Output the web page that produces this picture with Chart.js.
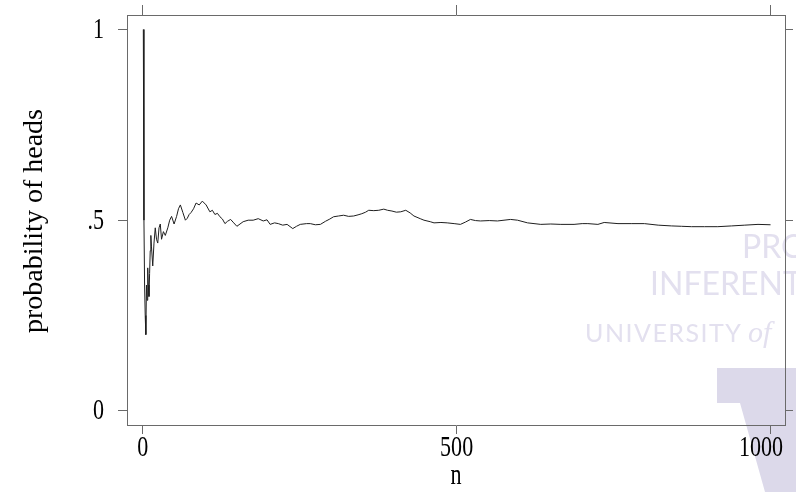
<!DOCTYPE html>
<html>
<head>
<meta charset="utf-8">
<script src="https://cdn.jsdelivr.net/npm/chart.js@4/dist/chart.umd.min.js"></script>
<style>
  body { margin: 0; background: #fff; }
  canvas { display: block; }
</style>
</head>
<body>
<canvas id="graph" width="796" height="492"></canvas>
<script>
// running proportion of heads
const flips = [1, 2, 3, 4, 5, 6, 7, 8, 9, 10, 11, 12, 13, 14, 16, 18, 20, 22, 24, 26, 28, 30, 33, 36, 40, 43, 46, 50,
  54, 57, 60, 64, 68, 71, 74, 77, 81, 85, 90, 95, 101, 107, 111, 115, 119, 123, 127, 131, 135, 140, 145, 150, 155,
  160, 168, 176, 184, 192, 198, 203, 210, 216, 223, 230, 239, 245, 251, 261, 267, 275, 283, 291, 298, 304, 312, 320,
  328, 336, 343, 349, 355, 360, 368, 376, 384, 390, 397, 404, 411, 419, 426, 432, 442, 448, 458, 464, 475, 485, 496,
  506, 514, 522, 530, 538, 552, 565, 586, 597, 613, 634, 650, 666, 687, 700, 709, 725, 735, 757, 778, 799, 821, 842,
  858, 874, 895, 916, 938, 959, 980, 1000];
const probHeads = [1, 0.5, 0.33, 0.25, 0.2, 0.33, 0.29, 0.375, 0.33, 0.3, 0.36, 0.42, 0.46, 0.43, 0.38, 0.44, 0.48,
  0.45, 0.44, 0.48, 0.49, 0.45, 0.47, 0.46, 0.48, 0.5, 0.51, 0.49, 0.51, 0.53, 0.54, 0.52, 0.5, 0.505, 0.515, 0.52,
  0.53, 0.545, 0.54, 0.55, 0.54, 0.522, 0.526, 0.515, 0.518, 0.509, 0.503, 0.491, 0.497, 0.502, 0.493, 0.484, 0.49,
  0.496, 0.5, 0.5, 0.504, 0.498, 0.501, 0.489, 0.493, 0.491, 0.487, 0.489, 0.478, 0.484, 0.489, 0.491, 0.491, 0.488,
  0.489, 0.497, 0.503, 0.509, 0.511, 0.513, 0.51, 0.511, 0.514, 0.517, 0.521, 0.526, 0.525, 0.526, 0.529, 0.526,
  0.524, 0.521, 0.522, 0.526, 0.519, 0.511, 0.504, 0.5, 0.496, 0.493, 0.494, 0.493, 0.491, 0.489, 0.495, 0.502,
  0.499, 0.498, 0.499, 0.498, 0.502, 0.5, 0.493, 0.489, 0.49, 0.489, 0.489, 0.491, 0.491, 0.489, 0.494, 0.491,
  0.491, 0.491, 0.487, 0.485, 0.484, 0.483, 0.483, 0.483, 0.485, 0.487, 0.489, 0.488];

const xTickValues = [0, 500, 1000];
const xTickLabels = ['0', '500', '1000'];
const yTickValues = [0, 0.5, 1];
const yTickLabels = ['0', '.5', '1'];
const xTitle = 'n';
const yTitle = 'probability of heads';

const axisColor = '#6a6a6a';
const serif = '"Liberation Serif", "Times New Roman", serif';

const setTicks = (values) => (scale) => {
  scale.ticks = values.map((v) => ({ value: v }));
};

function axis(position, min, max, values, size, tickLen) {
  const horiz = position === 'top' || position === 'bottom';
  return {
    type: 'linear',
    position: position,
    min: min,
    max: max,
    afterBuildTicks: setTicks(values),
    afterFit: (s) => { if (horiz) s.height = size; else s.width = size; },
    ticks: { display: false },
    grid: { drawOnChartArea: false, drawTicks: true, tickLength: tickLen, color: axisColor, lineWidth: 1 },
    border: { display: true, color: axisColor, width: 1 }
  };
}

// faint watermark in the lower right, under the axes
const watermark = {
  id: 'watermark',
  beforeDraw(chart) {
    const ctx = chart.ctx;
    ctx.save();
    ctx.fillStyle = '#dcd9ea';
    ctx.beginPath();
    ctx.moveTo(717, 368);
    ctx.lineTo(796, 368);
    ctx.lineTo(796, 492);
    ctx.lineTo(765, 492);
    ctx.lineTo(740, 403);
    ctx.lineTo(717, 403);
    ctx.closePath();
    ctx.fill();

    ctx.fillStyle = '#e3e0ef';
    ctx.textBaseline = 'alphabetic';
    ctx.font = '32px Lato';
    ctx.fillText('PROBABILITY', 742, 258);
    ctx.fillText('INFERENTIAL', 650, 295);
    ctx.font = '25px Lato';
    ctx.letterSpacing = '1.5px';
    ctx.fillText('UNIVERSITY', 585, 342);
    ctx.letterSpacing = '0px';
    ctx.font = 'italic 30px ' + serif;
    ctx.fillText('of', 748, 342);
    ctx.restore();
  }
};

// tick labels and titles, drawn narrow like the original
const labels = {
  id: 'labels',
  afterDraw(chart) {
    const ctx = chart.ctx;
    const xs = chart.scales.x;
    const ys = chart.scales.y;
    const sx = 0.76;
    ctx.save();
    ctx.fillStyle = '#000';
    ctx.font = '29px ' + serif;

    ctx.textAlign = 'right';
    ctx.textBaseline = 'middle';
    yTickValues.forEach((v, i) => {
      ctx.save();
      ctx.translate(104, ys.getPixelForValue(v) + 1);
      ctx.scale(sx, 1);
      ctx.fillText(yTickLabels[i], 0, 0);
      ctx.restore();
    });

    // last label is pulled in so it stays inside the frame's right edge
    ctx.textAlign = 'center';
    xTickValues.forEach((v, i) => {
      const half = ctx.measureText(xTickLabels[i]).width * sx / 2;
      const cx = Math.min(xs.getPixelForValue(v), xs.right - 2 - half);
      ctx.save();
      ctx.translate(cx, 448);
      ctx.scale(sx, 1);
      ctx.fillText(xTickLabels[i], 0, 0);
      ctx.restore();
    });

    ctx.save();
    ctx.translate((xs.left + xs.right) / 2, 484);
    ctx.scale(sx, 1);
    ctx.textBaseline = 'alphabetic';
    ctx.fillText(xTitle, 0, 0);
    ctx.restore();

    ctx.save();
    ctx.font = '28px ' + serif;
    ctx.translate(35, 221);
    ctx.scale(0.95, 1);
    ctx.rotate(-Math.PI / 2);
    ctx.fillText(yTitle, 0, 0);
    ctx.restore();

    ctx.restore();
  }
};

const xMin = -25, xMax = 1023;
const yMin = -0.037, yMax = 1.038;

new Chart(document.getElementById('graph'), {
  type: 'scatter',
  data: {
    datasets: [{
      data: flips.map((n, i) => ({ x: n, y: probHeads[i] })),
      showLine: true,
      borderColor: '#1e1e1e',
      borderWidth: 1,
      pointRadius: 0,
      tension: 0
    }]
  },
  options: {
    responsive: false,
    animation: false,
    devicePixelRatio: 1,
    layout: { padding: 0 },
    plugins: { legend: { display: false }, tooltip: { enabled: false } },
    scales: {
      x: axis('bottom', xMin, xMax, xTickValues, 67, 9),
      x2: axis('top', xMin, xMax, xTickValues, 15, 10),
      y: axis('left', yMin, yMax, yTickValues, 127, 9),
      y2: axis('right', yMin, yMax, yTickValues, 11, 8)
    }
  },
  plugins: [watermark, labels]
});
</script>
</body>
</html>
